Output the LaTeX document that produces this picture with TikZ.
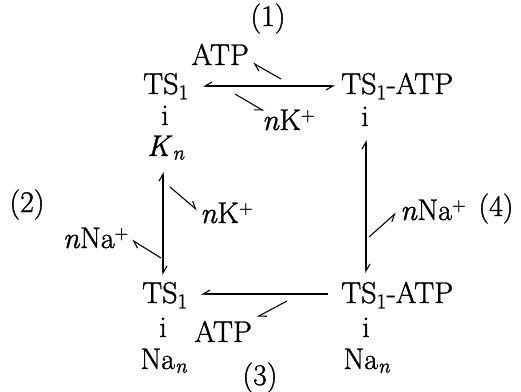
\documentclass[tikz,border=0pt]{standalone}
\usepackage{fontspec}
\usetikzlibrary{arrows.meta}
\newfontfamily\dfont{Latin Modern Roman}[FakeBold=1.2]
\newcommand\plussup{\textsuperscript{\fontsize{19}{19}\selectfont +}}
\begin{document}
\begin{tikzpicture}[x=1pt,y=-1pt,
  lbl/.style={font=\dfont\fontsize{30}{36}\selectfont, inner sep=0pt, anchor=base},
  lblw/.style={lbl, anchor=base west},
  lble/.style={lbl, anchor=base east},
  ln/.style={line width=1.1pt},
  hp/.tip={Straight Barb[harpoon, length=7pt, width=8pt, line width=1.1pt]},
  hs/.tip={Straight Barb[harpoon, swap, length=7pt, width=8pt, line width=1.1pt]}]
\useasboundingbox (0,0) rectangle (521,391);
% labels
\node[lbl] (l1) at (268,26) {(1)};
\node[lble] (atpT) at (249,65) {ATP};
\node[lblw] (ts1T) at (143,94) {TS\textsubscript{1}};
\node[lblw] (ts1atpT) at (341,94) {TS\textsubscript{1}-ATP};
\node[lbl] (iT1) at (165,125) {i};
\node[lblw] (kT) at (262,130) {\textit{n}K\plussup};
\node[lbl] (iT2) at (365,126) {i};
\node[lbl] (kn) at (166,156) {\textit{K}\textsubscript{\textit{n}}};
\node[lbl] (l2) at (27,212) {(2)};
\node[lblw] (kB) at (200,223) {\textit{n}K\plussup};
\node[lble] (naL) at (129,248) {\textit{n}Na\plussup};
\node[lblw] (naR) at (400,220) {\textit{n}Na\plussup};
\node[lbl] (l4) at (496,216) {(4)};
\node[lblw] (ts1B) at (142,303) {TS\textsubscript{1}};
\node[lblw] (ts1atpB) at (341,303) {TS\textsubscript{1}-ATP};
\node[lbl] (iB1) at (163,337) {i};
\node[lble] (atpB) at (252,342) {ATP};
\node[lbl] (iB2) at (366,337) {i};
\node[lbl] (naB1) at (164,369) {Na\textsubscript{\textit{n}}};
\node[lbl] (naB2) at (367,369) {Na\textsubscript{\textit{n}}};
\node[lbl] (l3) at (260,385) {(3)};
% connector end points
\coordinate (tA) at (203,86);  \coordinate (tB) at (335,86);
\coordinate (tAtp0) at (281,79); \coordinate (tAtp1) at (253,63);
\coordinate (tK0) at (235,94); \coordinate (tK1) at (264,111);
\coordinate (lA) at (163,172); \coordinate (lB) at (163,275);
\coordinate (lK0) at (170,187); \coordinate (lK1) at (197,210);
\coordinate (lN0) at (161,258); \coordinate (lN1) at (132,240);
\coordinate (rA) at (366,140); \coordinate (rB) at (366,273);
\coordinate (rN0) at (369,237); \coordinate (rN1) at (396,213);
\coordinate (bA) at (328,294); \coordinate (bB) at (201,294);
\coordinate (bAtp0) at (287,301); \coordinate (bAtp1) at (257,317);
% connectors
\draw[ln, hs-hs] (tA) -- (tB);
\draw[ln, -hp] (tAtp0) -- (tAtp1);
\draw[ln, -hs] (tK0) -- (tK1);
\draw[ln, hp-hp] (lA) -- (lB);
\draw[ln, -hp] (lK0) -- (lK1);
\draw[ln, -hp] (lN0) -- (lN1);
\draw[ln, hp-hp] (rA) -- (rB);
\draw[ln, -hs] (rN0) -- (rN1);
\draw[ln, -hs] (bA) -- (bB);
\draw[ln, -hp] (bAtp0) -- (bAtp1);
\end{tikzpicture}
\end{document}
